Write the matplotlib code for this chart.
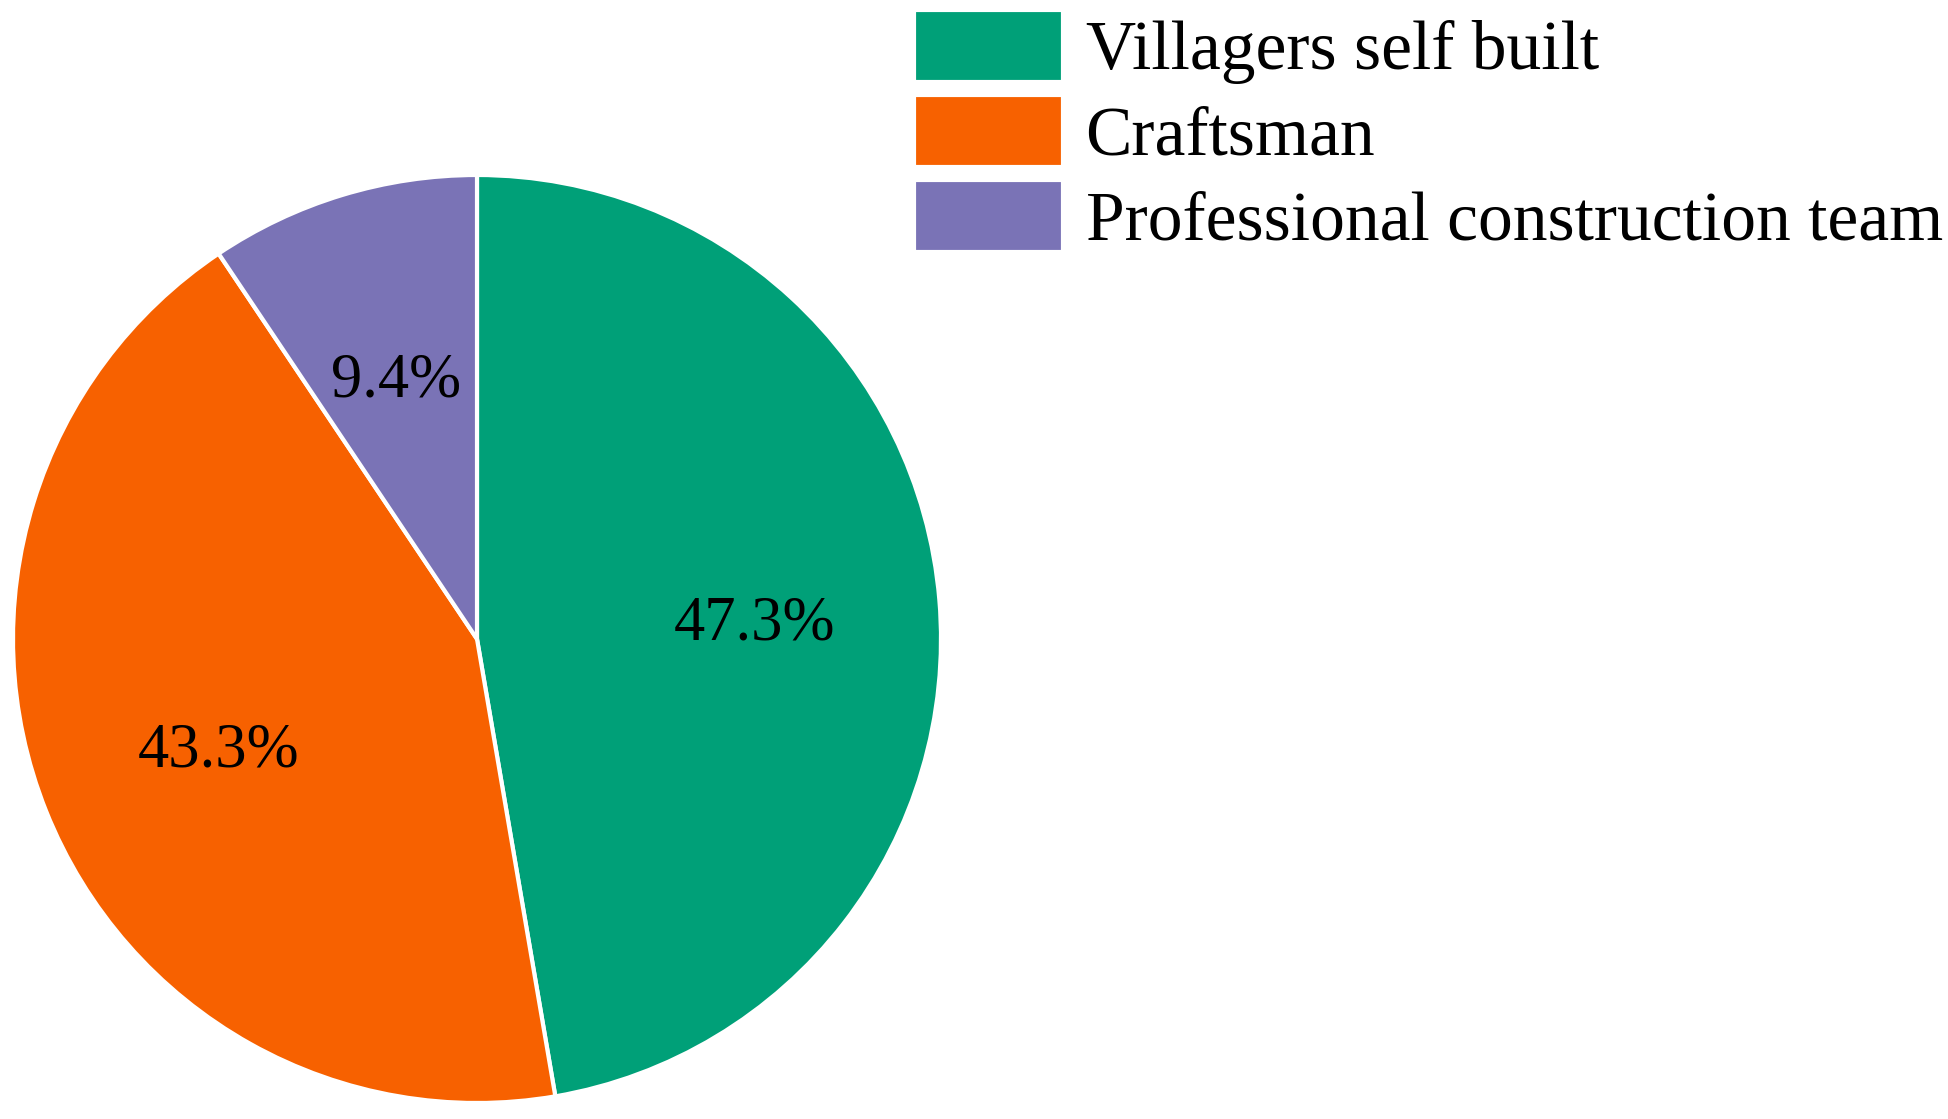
import matplotlib
matplotlib.use("Agg")
import matplotlib.pyplot as plt

labels = ["Villagers self built", "Craftsman", "Professional construction team"]
shares = [47.3, 43.3, 9.4]
colors = ["#00A078", "#F76100", "#7A73B6"]

plt.rcParams["font.family"] = ["Liberation Serif", "DejaVu Serif"]

W, H = 1949, 1119
fig = plt.figure(figsize=(W / 100, H / 100), dpi=100)

# pie centre (477, 639) px, radius 464 px
cx, cy, r = 477, 639, 464
ax = fig.add_axes([(cx - r) / W, (H - cy - r) / H, 2 * r / W, 2 * r / H])

wedges, texts, autotexts = ax.pie(
    shares,
    colors=colors,
    startangle=90,
    counterclock=False,
    autopct="%.1f%%",
    pctdistance=0.6,
    wedgeprops={"edgecolor": "white", "linewidth": 3},
    textprops={"fontsize": 45, "color": "black"},
)
for w in wedges:
    w.set_clip_on(False)
for t in autotexts:
    x, y = t.get_position()
    t.set_position((x, y - 0.02))
ax.set_xlim(-1, 1)
ax.set_ylim(-1, 1)
ax.set_aspect("equal")

fig.legend(
    wedges,
    labels,
    loc="upper left",
    bbox_to_anchor=(914 / W, 1 - 10 / H),
    frameon=False,
    fontsize=50,
    handlelength=2.15,
    handleheight=1.22,
    handletextpad=0.32,
    labelspacing=0.15,
    borderpad=0,
    borderaxespad=0,
)

plt.savefig("out.png", dpi=100)
plt.close()
